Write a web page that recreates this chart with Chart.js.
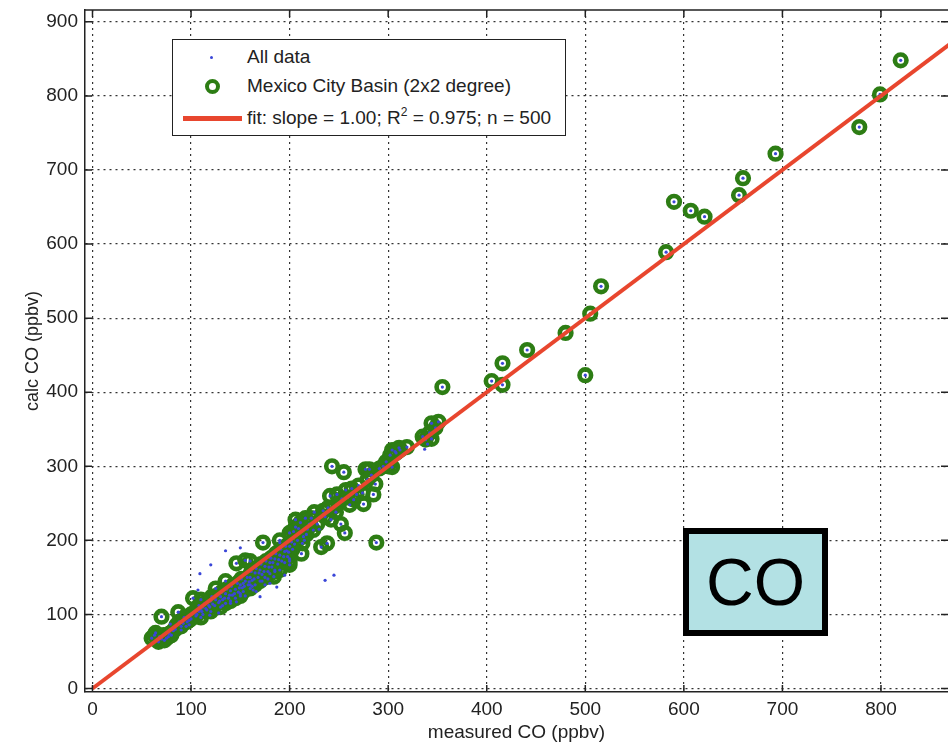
<!DOCTYPE html>
<html>
<head>
<meta charset="utf-8">
<script src="https://cdn.jsdelivr.net/npm/chart.js@4.4.1/dist/chart.umd.min.js"></script>
<style>
  body { margin: 0; background: #fff; font-family: "Liberation Sans", Arial, sans-serif; }
  #wrap { position: relative; width: 948px; height: 746px; overflow: hidden; }
  #chart { position: absolute; left: 0; top: 0; }
  #legend {
    position: absolute; left: 172px; top: 39px; width: 394px; height: 97px;
    box-sizing: border-box; border: 1.5px solid #222; background: #fff;
    font-size: 19px; color: #222;
  }
  #legend .txt { position: absolute; left: 74px; line-height: 20px; white-space: nowrap; }
  #legend sup { font-size: 12px; vertical-align: 8px; line-height: 0; }
  .dot { position: absolute; width: 3px; height: 3px; border-radius: 50%; background: #3a46d8; }
  .ring { position: absolute; width: 15px; height: 15px; box-sizing: border-box; border-radius: 50%; border: 4px solid #2d7d14; }
  .bar { position: absolute; height: 5px; background: #e8462e; }
  #colabel {
    position: absolute; left: 683px; top: 528px; width: 145px; height: 108px;
    box-sizing: border-box; border: 6px solid #000; background: #b3e1e4;
    display: flex; align-items: center; justify-content: center;
    font-size: 66px; color: #000;
  }
</style>
</head>
<body>
<div id="wrap">
  <canvas id="chart" width="948" height="746"></canvas>
  <div id="legend">
    <span class="dot" style="left:37px; top:16px;"></span>
    <span class="txt" style="top:7px;">All data</span>
    <span class="ring" style="left:32px; top:39px;"></span>
    <span class="txt" style="top:36px;">Mexico City Basin (2x2 degree)</span>
    <span class="bar" style="left:10px; top:76px; width:59px;"></span>
    <span class="txt" style="top:68px;">fit: slope = 1.00; R<sup>2</sup> = 0.975; n = 500</span>
  </div>
  <div id="colabel">CO</div>
</div>
<script>
// Mexico City Basin points (measured, calc) in ppbv
const basinX = [60, 63, 66, 68, 70, 72, 75, 78, 80, 70, 87, 85, 88, 92, 95, 98, 100, 102, 105, 108,
  110, 112, 115, 118, 120, 122, 125, 128, 130, 132, 135, 138, 140, 142, 145, 146, 148, 150, 152, 153,
  155, 155, 158, 160, 162, 165, 168, 170, 172, 173, 175, 178, 180, 182, 184, 185, 188, 190, 192, 195,
  198, 200, 200, 203, 206, 206, 208, 210, 212, 214, 216, 218, 220, 225, 232, 234, 238, 241, 242, 243,
  245, 250, 252, 255, 256, 257, 261, 265, 274, 275, 277, 281, 285, 287, 288, 291, 300, 304, 302, 304,
  307, 311, 319, 342, 344, 344, 351, 355, 405, 416, 416, 441, 480, 500, 505, 516, 582, 590, 607, 621,
  656, 660, 693, 778, 799, 820,
  64, 67, 73, 77, 82, 84, 90, 93, 96, 100, 103, 106, 108, 111, 114, 116, 119, 121, 124, 127,
  129, 131, 134, 136, 139, 141, 144, 147, 149, 151, 154, 157, 159, 161, 164, 166, 169, 171, 174, 176,
  179, 181, 183, 186, 189, 191, 194, 196, 199, 202, 204, 209, 211, 213, 217, 222, 224, 228, 236, 239,
  247, 248, 253, 259, 263, 268, 270, 279, 283, 295, 298, 308, 312, 335, 338, 348,
  130, 140, 150, 160, 170, 180, 190, 200, 120, 110, 175, 185, 195, 165, 145, 135, 125, 135, 110, 160,
  190, 200];
const basinY = [68, 72, 66, 70, 67, 72, 68, 74, 72, 97, 103, 85, 90, 88, 95, 92, 100, 122, 98, 104,
  106, 110, 108, 112, 118, 114, 120, 116, 124, 120, 128, 122, 132, 126, 134, 169, 130, 140, 136, 131,
  173, 145, 140, 150, 146, 156, 150, 160, 154, 197, 165, 158, 170, 164, 151, 175, 168, 180, 172, 185,
  178, 167, 192, 188, 218, 228, 200, 210, 182, 205, 230, 215, 222, 238, 191, 240, 196, 260, 228, 300,
  245, 250, 222, 292, 210, 268, 248, 255, 264, 249, 296, 296, 262, 276, 197, 297, 300, 299, 315, 322,
  320, 325, 326, 345, 358, 337, 360, 407, 415, 410, 439, 457, 480, 423, 506, 543, 589, 657, 645, 637,
  666, 689, 722, 758, 802, 848,
  75, 63, 65, 70, 78, 80, 84, 96, 90, 94, 102, 100, 112, 104, 115, 106, 110, 124, 112, 126,
  118, 130, 122, 134, 126, 138, 128, 142, 136, 148, 138, 150, 144, 158, 148, 162, 156, 168, 158, 172,
  164, 176, 170, 182, 174, 188, 178, 192, 184, 198, 212, 216, 224, 196, 208, 230, 214, 222, 232, 244,
  238, 262, 256, 258, 270, 262, 274, 282, 288, 300, 306, 318, 322, 340, 336, 352,
  110, 118, 125, 135, 145, 155, 160, 172, 104, 96, 150, 158, 170, 140, 122, 115, 135, 145, 120, 172,
  200, 210];

// remaining "all data" points outside the basin circles
const otherX = [135, 150, 120, 109, 107, 236, 245, 190, 195, 187, 170, 163, 166, 160, 153, 146, 128, 119, 90, 79,
  197, 337, 180, 175, 140, 205, 132, 155, 178, 185, 112, 95, 150, 162, 172, 200, 215, 230, 340, 98];
const otherY = [186, 190, 167, 155, 133, 146, 153, 197, 153, 137, 124, 133, 131, 140, 142, 117, 102, 99, 79, 87,
  186, 323, 142, 140, 115, 195, 112, 125, 148, 160, 100, 84, 128, 138, 145, 175, 200, 215, 330, 86];

// fit line, slope 1.00
const fitX = [0, 900];
const fitY = [0, 900];

const xTicks = [0, 100, 200, 300, 400, 500, 600, 700, 800];
const yTicks = [0, 100, 200, 300, 400, 500, 600, 700, 800, 900];

function toPoints(xs, ys) {
    return xs.map((x, i) => ({ x: x, y: ys[i] }));
}

const fontFamily = '"Liberation Sans", Arial, sans-serif';
const ink = '#222';

// full box plus inward tick marks, like the original plot frame
const frameTicks = {
    id: 'frameTicks',
    afterDraw(chart) {
        const { ctx, chartArea: a, scales } = chart;
        const x = scales.x, y = scales.y;
        ctx.save();
        ctx.strokeStyle = ink;
        ctx.lineWidth = 1.5;
        ctx.beginPath();
        ctx.moveTo(a.left, a.top);
        ctx.lineTo(a.right, a.top);
        xTicks.forEach(v => {
            const px = x.getPixelForValue(v);
            ctx.moveTo(px, a.bottom);
            ctx.lineTo(px, a.bottom - 7);
            ctx.moveTo(px, a.top);
            ctx.lineTo(px, a.top + 7);
        });
        yTicks.forEach(v => {
            const py = y.getPixelForValue(v);
            ctx.moveTo(a.left, py);
            ctx.lineTo(a.left + 7, py);
            ctx.moveTo(a.right, py);
            ctx.lineTo(a.right - 7, py);
        });
        ctx.stroke();
        ctx.restore();
    }
};

new Chart(document.getElementById('chart'), {
    type: 'scatter',
    data: {
        datasets: [{
            label: 'All data',
            data: toPoints(basinX.concat(otherX), basinY.concat(otherY)),
            pointRadius: 1.6,
            pointBorderWidth: 0,
            pointBackgroundColor: '#3a46d8',
            order: 1
        }, {
            label: 'fit',
            type: 'line',
            data: toPoints(fitX, fitY),
            borderColor: '#e8462e',
            borderWidth: 4,
            pointRadius: 0,
            fill: false,
            order: 0
        }, {
            label: 'Mexico City Basin (2x2 degree)',
            data: toPoints(basinX, basinY),
            pointRadius: 5.8,
            pointBorderWidth: 4.6,
            pointBorderColor: '#2d7d14',
            pointBackgroundColor: 'rgba(0,0,0,0)',
            order: 2
        }]
    },
    options: {
        responsive: false,
        animation: false,
        layout: { autoPadding: false, padding: { top: 10, right: 0, bottom: 0, left: 0 } },
        plugins: { legend: { display: false }, tooltip: { enabled: false } },
        scales: {
            x: {
                type: 'linear',
                min: -7.6,
                max: 868,
                afterFit(s) { s.height = 54; s.paddingLeft = 0; s.paddingRight = 0; },
                afterBuildTicks(s) { s.ticks = xTicks.map(v => ({ value: v })); },
                ticks: { padding: 6, color: ink, font: { family: fontFamily, size: 19 } },
                grid: { color: '#333', lineWidth: 1.2, drawTicks: false },
                border: { display: true, color: ink, width: 1.5, dash: [2, 4] },
                title: {
                    display: true, text: 'measured CO (ppbv)', color: ink,
                    font: { family: fontFamily, size: 19 }, padding: { top: 0, bottom: 1.5 }
                }
            },
            y: {
                type: 'linear',
                min: -4.7,
                max: 916,
                afterFit(s) { s.width = 85; s.paddingTop = 0; s.paddingBottom = 0; },
                afterBuildTicks(s) { s.ticks = yTicks.map(v => ({ value: v })); },
                ticks: { padding: 7, color: ink, font: { family: fontFamily, size: 19 } },
                grid: { color: '#333', lineWidth: 1.2, drawTicks: false },
                border: { display: true, color: ink, width: 1.5, dash: [2, 4] },
                title: {
                    display: true, text: 'calc CO (ppbv)', color: ink,
                    font: { family: fontFamily, size: 18 }, padding: { top: 22, bottom: 0 }
                }
            }
        }
    },
    plugins: [frameTicks]
});
</script>
</body>
</html>
